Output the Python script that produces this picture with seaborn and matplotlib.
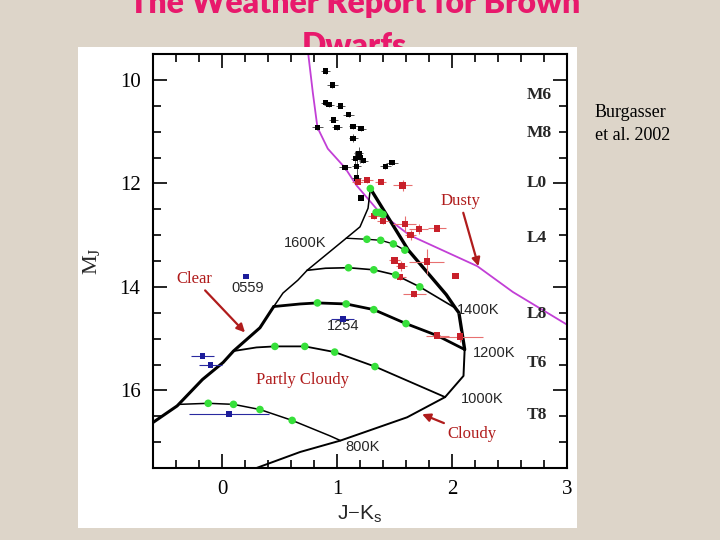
import matplotlib
matplotlib.use('Agg')
import matplotlib.pyplot as plt
import seaborn as sns
from matplotlib.patches import Rectangle
from matplotlib.ticker import MultipleLocator

sns.set_style('ticks')
plt.rcParams['font.family'] = ['Liberation Serif', 'DejaVu Sans']
plt.rcParams['mathtext.fontset'] = 'custom'
plt.rcParams['mathtext.rm'] = 'Liberation Serif'

# dusty model sequence (magenta)
dusty_x = [0.75, 0.79, 0.83, 0.92, 1.07, 1.17, 1.37, 1.63, 2.22, 2.53, 3.0]
dusty_y = [9.5, 10.25, 10.92, 11.33, 11.7, 12.04, 12.56, 13.0, 13.6, 14.1, 14.73]

# cloudy track
cloudy_top_x = [1.29, 1.62, 1.95, 2.03, 2.06, 2.11]
cloudy_top_y = [12.1, 13.29, 14.15, 14.41, 14.5, 15.21]
cloudy_low_x = [2.11, 2.10, 1.94, 1.61, 1.03, 0.68, 0.30]
cloudy_low_y = [15.21, 15.72, 16.13, 16.52, 16.97, 17.19, 17.5]

# clear track
clear_top_x = [1.29, 1.27, 1.2, 1.08, 0.74, 0.66, 0.53, 0.45]
clear_top_y = [12.1, 12.48, 12.84, 13.06, 13.68, 13.87, 14.12, 14.38]
clear_low_x = [0.45, 0.33, 0.10, 0.01, -0.17, -0.39, -0.6]
clear_low_y = [14.38, 14.79, 15.24, 15.46, 15.79, 16.3, 16.62]

# isotherms
iso1_x = [1.08, 1.26, 1.38, 1.49, 1.59, 1.63]
iso1_y = [13.06, 13.08, 13.10, 13.17, 13.29, 13.33]
iso2_x = [0.74, 0.9, 1.10, 1.32, 1.51, 1.72, 2.03]
iso2_y = [13.68, 13.64, 13.63, 13.67, 13.77, 14.0, 14.41]
iso3_x = [0.45, 0.68, 0.83, 1.08, 1.32, 1.60, 1.87, 2.11]
iso3_y = [14.38, 14.33, 14.31, 14.33, 14.44, 14.71, 14.94, 15.21]
iso4_x = [0.10, 0.30, 0.46, 0.72, 0.98, 1.33, 1.94]
iso4_y = [15.24, 15.17, 15.15, 15.15, 15.26, 15.54, 16.13]
iso5_x = [-0.37, -0.12, 0.10, 0.33, 0.61, 0.94, 1.03]
iso5_y = [16.27, 16.25, 16.27, 16.37, 16.58, 16.88, 16.97]

# model points
green_x = [1.29, 1.34, 1.37, 1.40, 1.26, 1.38, 1.49, 1.59, 1.10, 1.32, 1.51, 1.72,
           0.83, 1.08, 1.32, 1.60, 0.46, 0.72, 0.98, 1.33, -0.12, 0.10, 0.33, 0.61]
green_y = [12.1, 12.56, 12.56, 12.6, 13.08, 13.1, 13.17, 13.29, 13.63, 13.67, 13.77, 14.0,
           14.31, 14.33, 14.44, 14.71, 15.15, 15.15, 15.26, 15.54, 16.25, 16.27, 16.37, 16.58]

# M dwarfs
black_x = [0.90, 0.96, 0.90, 0.93, 1.03, 1.10, 0.97, 1.00, 0.83, 1.14, 1.21,
           1.14, 1.19, 1.20, 1.16, 1.23, 1.07, 1.17, 1.42, 1.48, 1.17, 1.21]
black_y = [9.83, 10.1, 10.44, 10.48, 10.5, 10.67, 10.77, 10.92, 10.92, 10.9, 10.94,
           11.13, 11.42, 11.5, 11.52, 11.56, 11.69, 11.67, 11.67, 11.6, 11.9, 12.28]
black_xerr = [0.04, 0.05, 0.04, 0.04, 0.04, 0.05, 0.04, 0.04, 0.05, 0.04, 0.04,
              0.04, 0.04, 0.04, 0.04, 0.04, 0.05, 0.04, 0.05, 0.05, 0.04, 0.0]
black_yerr = [0.05, 0.05, 0.05, 0.05, 0.05, 0.05, 0.05, 0.05, 0.05, 0.05, 0.05,
              0.08, 0.12, 0.1, 0.15, 0.05, 0.05, 0.25, 0.05, 0.05, 0.1, 0.0]

# L dwarfs
red_x = [1.18, 1.26, 1.38, 1.57, 1.32, 1.40, 1.59, 1.71, 1.87, 1.64, 1.50, 1.56,
         1.78, 1.55, 2.03, 1.67, 1.87, 2.07]
red_y = [11.97, 11.94, 11.97, 12.04, 12.63, 12.73, 12.79, 12.88, 12.87, 13.0, 13.49, 13.6,
         13.51, 13.81, 13.79, 14.14, 14.94, 14.96]
red_xerr = [0.05, 0.05, 0.05, 0.08, 0.05, 0.05, 0.1, 0.08, 0.08, 0.05, 0.05, 0.05,
            0.15, 0.05, 0.0, 0.1, 0.1, 0.2]
red_yerr = [0.05, 0.05, 0.05, 0.1, 0.05, 0.05, 0.15, 0.1, 0.05, 0.1, 0.05, 0.1,
            0.25, 0.05, 0.0, 0.05, 0.05, 0.1]

# T dwarfs
blue_x = [0.21, 1.05, -0.17, -0.10, 0.06]
blue_y = [13.8, 14.62, 15.34, 15.51, 16.46]
blue_xerr = [0.0, 0.1, 0.1, 0.1, 0.35]

spt_labels = ['M6', 'M8', 'L0', 'L4', 'L8', 'T6', 'T8']
spt_mag = [10.3, 11.02, 12.0, 13.05, 14.52, 15.47, 16.47]

temp_labels = ['1600K', '1400K', '1200K', '1000K', '800K', '0559', '1254']
temp_x = [0.72, 2.23, 2.37, 2.26, 1.22, 0.22, 1.05]
temp_y = [13.15, 14.44, 15.27, 16.17, 17.1, 14.02, 14.75]

fig = plt.figure(figsize=(7.2, 5.4), dpi=100, facecolor='#DDD5C9')

# slide title, partly hidden behind the figure panel as on the slide
title_col = '#E8196C'
fig.text(0.492, 1 - 13 / 540, 'The Weather Report for Brown', ha='center', va='baseline',
         fontsize=23, weight='heavy', color=title_col, family='Lato', zorder=-2)
fig.text(0.492, 1 - 56 / 540, 'Dwarfs', ha='center', va='baseline',
         fontsize=23, weight='heavy', color=title_col, family='Lato', zorder=-2)
fig.add_artist(Rectangle((78 / 720, 12 / 540), 499 / 720, 481 / 540, transform=fig.transFigure,
                         facecolor='white', edgecolor='none', zorder=-1))

fig.text(595 / 720, 1 - 124 / 540, 'Burgasser\net al. 2002', ha='left', va='center',
         fontsize=13, linespacing=1.45, color='black')

ax = fig.add_axes([153 / 720, 72 / 540, 414 / 720, 414 / 540])
ax.set_facecolor('white')

sns.lineplot(x=dusty_x, y=dusty_y, sort=False, estimator=None, color='#C23FD6', lw=1.3, ax=ax)
for xs, ys, lw in [(cloudy_top_x, cloudy_top_y, 2.4), (cloudy_low_x, cloudy_low_y, 1.4),
                   (clear_top_x, clear_top_y, 1.1), (clear_low_x, clear_low_y, 2.2),
                   (iso1_x, iso1_y, 1.0), (iso2_x, iso2_y, 1.2), (iso3_x, iso3_y, 2.0),
                   (iso4_x, iso4_y, 1.3), (iso5_x, iso5_y, 1.1)]:
    sns.lineplot(x=xs, y=ys, sort=False, estimator=None, color='black', lw=lw, ax=ax)

ax.errorbar(black_x, black_y, xerr=black_xerr, yerr=black_yerr, fmt='none',
            ecolor='#555555', elinewidth=0.7, zorder=3)
sns.scatterplot(x=black_x, y=black_y, marker='s', s=16, color='black', edgecolor='none',
                ax=ax, zorder=4)
ax.errorbar(red_x, red_y, xerr=red_xerr, yerr=red_yerr, fmt='none',
            ecolor='#E87070', elinewidth=0.8, zorder=3)
sns.scatterplot(x=red_x, y=red_y, marker='s', s=20, color='#C8202A', edgecolor='none',
                ax=ax, zorder=4)
ax.errorbar(blue_x, blue_y, xerr=blue_xerr, fmt='none', ecolor='#2A2AA0', elinewidth=0.8, zorder=3)
sns.scatterplot(x=blue_x, y=blue_y, marker='s', s=16, color='#1C1C9A', edgecolor='none',
                ax=ax, zorder=4)
sns.scatterplot(x=green_x, y=green_y, marker='o', s=30, color='#36E03A', edgecolor='none',
                ax=ax, zorder=5)

for lab, m in zip(spt_labels, spt_mag):
    ax.text(2.65, m, lab, ha='left', va='center', fontsize=12.5, weight='bold')
for lab, x, y in zip(temp_labels, temp_x, temp_y):
    ax.text(x, y, lab, ha='center', va='center', fontsize=10.5, family='Liberation Sans')

ann_col = '#B01C1C'
arrow = dict(arrowstyle='-|>', color=ann_col, lw=1.6, mutation_scale=12, shrinkA=0, shrinkB=0)
ax.annotate('Dusty', xy=(2.23, 13.6), xytext=(2.07, 12.35), ha='center', va='center',
            fontsize=12, color=ann_col, arrowprops=arrow)
ax.annotate('Clear', xy=(0.2, 14.88), xytext=(-0.24, 13.85), ha='center', va='center',
            fontsize=12, color=ann_col, arrowprops=arrow)
ax.annotate('Cloudy', xy=(1.74, 16.46), xytext=(2.17, 16.85), ha='center', va='center',
            fontsize=12, color=ann_col, arrowprops=arrow)
ax.text(0.70, 15.8, 'Partly Cloudy', ha='center', va='center', fontsize=12, color=ann_col)

ax.set_xlim(-0.6, 3.0)
ax.set_ylim(17.5, 9.5)
ax.set_xticks([0, 1, 2, 3])
ax.set_yticks([10, 12, 14, 16])
ax.xaxis.set_minor_locator(MultipleLocator(0.2))
ax.yaxis.set_minor_locator(MultipleLocator(0.5))
ax.tick_params(which='both', direction='in', top=True, right=True, width=1.2, colors='black')
ax.tick_params(which='major', length=10, labelsize=15, pad=9)
ax.tick_params(which='minor', length=6)
for sp in ax.spines.values():
    sp.set_linewidth(1.5)
    sp.set_color('black')

ax.set_xlabel(r'J$-$K$_\mathregular{s}$', fontsize=15, family='Liberation Sans')
ax.set_ylabel(r'M$_\mathregular{J}$', fontsize=16)
ax.xaxis.set_label_coords(0.5, -0.085)
ax.yaxis.set_label_coords(-0.12, 0.5)

fig.savefig('out.png', dpi=100, facecolor=fig.get_facecolor())
